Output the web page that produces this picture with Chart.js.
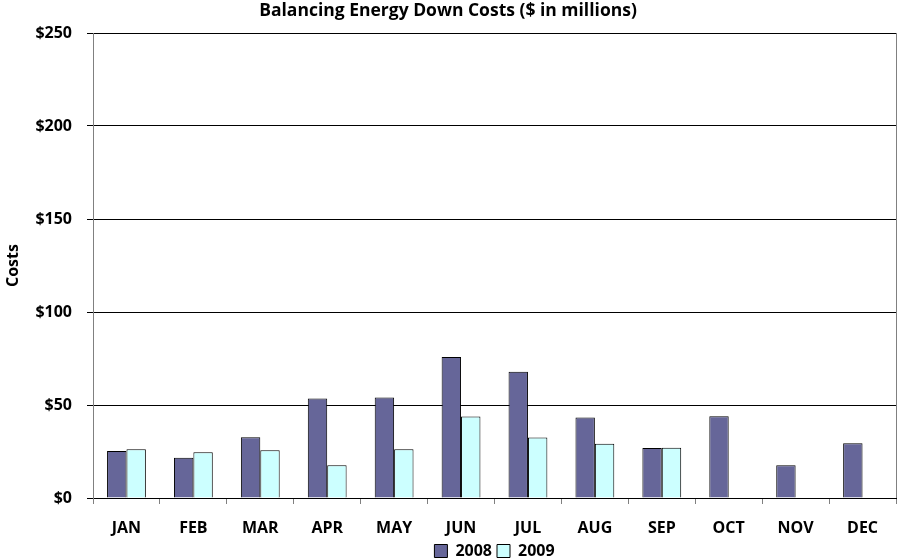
<!DOCTYPE html>
<html>
<head>
<meta charset="utf-8">
<script src="https://cdn.jsdelivr.net/npm/chart.js@4"></script>
<style>
  html, body { margin: 0; padding: 0; background: #fff; }
  #wrap { width: 898px; height: 560px; }
</style>
</head>
<body>
<div id="wrap"><canvas id="costChart" width="898" height="560"></canvas></div>
<script>
// Données
const months = ['JAN', 'FEB', 'MAR', 'APR', 'MAY', 'JUN', 'JUL', 'AUG', 'SEP', 'OCT', 'NOV', 'DEC'];
const costs2008 = [25.3, 21.7, 32.7, 53.5, 54.0, 75.8, 67.9, 43.3, 26.9, 44.0, 17.6, 29.5];
const costs2009 = [26.2, 24.6, 25.7, 17.6, 26.2, 43.8, 32.5, 29.1, 27.0, null, null, null];
const yTicks = [0, 50, 100, 150, 200, 250];

const font = "'Open Sans', sans-serif";

// bordure droite de la zone de tracé
const plotBorder = {
    id: 'plotBorder',
    afterDraw(chart) {
        const a = chart.chartArea;
        const ctx = chart.ctx;
        ctx.save();
        ctx.strokeStyle = '#808080';
        ctx.lineWidth = 1;
        ctx.beginPath();
        ctx.moveTo(Math.round(a.right) + 0.5, a.top);
        ctx.lineTo(Math.round(a.right) + 0.5, a.bottom);
        ctx.stroke();
        ctx.restore();
    }
};

const ctx = document.getElementById('costChart').getContext('2d');
const costChart = new Chart(ctx, {
    type: 'bar',
    data: {
        labels: months,
        datasets: [{
            label: '2008',
            data: costs2008,
            backgroundColor: '#666699',
            borderColor: '#000000',
            borderWidth: 1,
            categoryPercentage: 0.58,
            barPercentage: 1.0
        }, {
            label: '2009',
            data: costs2009,
            backgroundColor: '#CCFFFF',
            borderColor: '#000000',
            borderWidth: 1,
            categoryPercentage: 0.58,
            barPercentage: 1.0
        }]
    },
    options: {
        responsive: false,
        animation: false,
        layout: { padding: { left: 0, right: 2, top: 0, bottom: -9 } },
        plugins: {
            title: {
                display: true,
                text: 'Balancing Energy Down Costs ($ in millions)',
                color: '#000',
                font: { family: font, size: 17.5, weight: 'bold' },
                padding: { top: 1, bottom: 11 }
            },
            legend: {
                position: 'bottom',
                fullSize: false,
                labels: {
                    color: '#000',
                    font: { family: font, size: 16, weight: 'bold' },
                    boxWidth: 13,
                    boxHeight: 13,
                    padding: 5
                }
            },
            tooltip: { enabled: false }
        },
        scales: {
            x: {
                afterFit(scale) {
                    scale.height = 40;
                },
                grid: {
                    display: true,
                    offset: true,
                    drawOnChartArea: false,
                    drawTicks: true,
                    tickLength: 6,
                    color: '#808080'
                },
                border: { color: '#000', width: 1 },
                ticks: {
                    color: '#000',
                    font: { family: font, size: 16, weight: 'bold' },
                    padding: 15,
                    maxRotation: 0
                }
            },
            y: {
                min: 0,
                max: 250,
                afterBuildTicks(scale) {
                    scale.ticks = yTicks.map(v => ({ value: v }));
                },
                afterFit(scale) {
                    scale.width = 93;
                },
                grid: {
                    color: '#000',
                    lineWidth: 1,
                    drawTicks: true,
                    tickLength: 6,
                    tickColor: '#000'
                },
                border: { color: '#808080', width: 1 },
                title: {
                    display: true,
                    text: 'Costs',
                    color: '#000',
                    font: { family: font, size: 16, weight: 'bold' },
                    padding: { top: 4, bottom: 0 }
                },
                ticks: {
                    color: '#000',
                    font: { family: font, size: 16, weight: 'bold' },
                    padding: 15,
                    callback: v => '$' + v
                }
            }
        }
    },
    plugins: [plotBorder]
});
</script>
</body>
</html>
